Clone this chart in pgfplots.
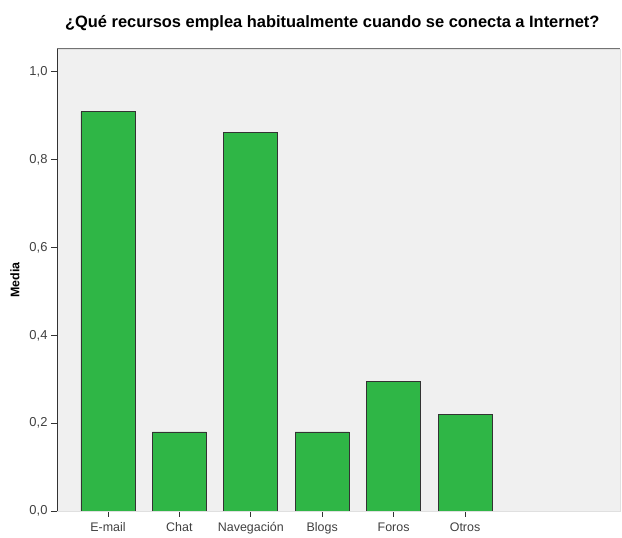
\documentclass[border=0pt]{standalone}
\usepackage{pgfplots}
\pgfplotsset{compat=1.18}
\usepackage{fontspec}
\setmainfont{Liberation Sans}
\definecolor{barfill}{RGB}{47,182,70}
\definecolor{plotbg}{RGB}{240,240,240}

\begin{document}
\begin{tikzpicture}
\begin{axis}[
  scale only axis,
  width=563bp, height=462bp,
  xmin=-0.714, xmax=7.17,
  ymin=0, ymax=1.052,
  axis background/.style={fill=plotbg},
  axis line style={draw=black!12},
  ybar, bar width=54bp,
  xtick={0,1,2,3,4,5},
  xticklabels={E-mail,Chat,Navegación,Blogs,Foros,Otros},
  ytick={0,0.2,0.4,0.6,0.8,1.0},
  tick pos=left, tick align=outside,
  major tick length=6bp,
  tick style={black!80, line width=0.8pt},
  yticklabel style={/pgf/number format/.cd, use comma, fixed, fixed zerofill, precision=1, /tikz/.cd, font=\fontsize{13}{15}\selectfont, text=black!75},
  /pgf/number format/assume math mode=true,
  xticklabel style={font=\fontsize{12.5}{14}\selectfont, text=black!75, yshift=-2bp},
  ylabel={\textbf{Media}},
  ylabel style={at={(rel axis cs:0,0.5)}, anchor=center, yshift=42bp, font=\fontsize{12.5}{14}\selectfont},
  title={\textbf{¿Qué recursos emplea habitualmente cuando se conecta a Internet?}},
  title style={at={(rel axis cs:0.489,1)}, anchor=center, yshift=20bp, font=\fontsize{16.5}{18}\selectfont},
]
\addplot[fill=barfill, draw=black!80, line width=0.8pt] coordinates {
  (0,0.909) (1,0.180) (2,0.861) (3,0.180) (4,0.295) (5,0.219)
};
\draw[black!55, line width=1pt] (rel axis cs:0,1) -- (rel axis cs:1,1);
\draw[black!80, line width=0.8pt] (rel axis cs:0,1) -- (rel axis cs:0,0) -- (rel axis cs:1,0);
\end{axis}
\path[use as bounding box] (-57bp,-23bp) rectangle (565bp,511bp);
\end{tikzpicture}
\end{document}
